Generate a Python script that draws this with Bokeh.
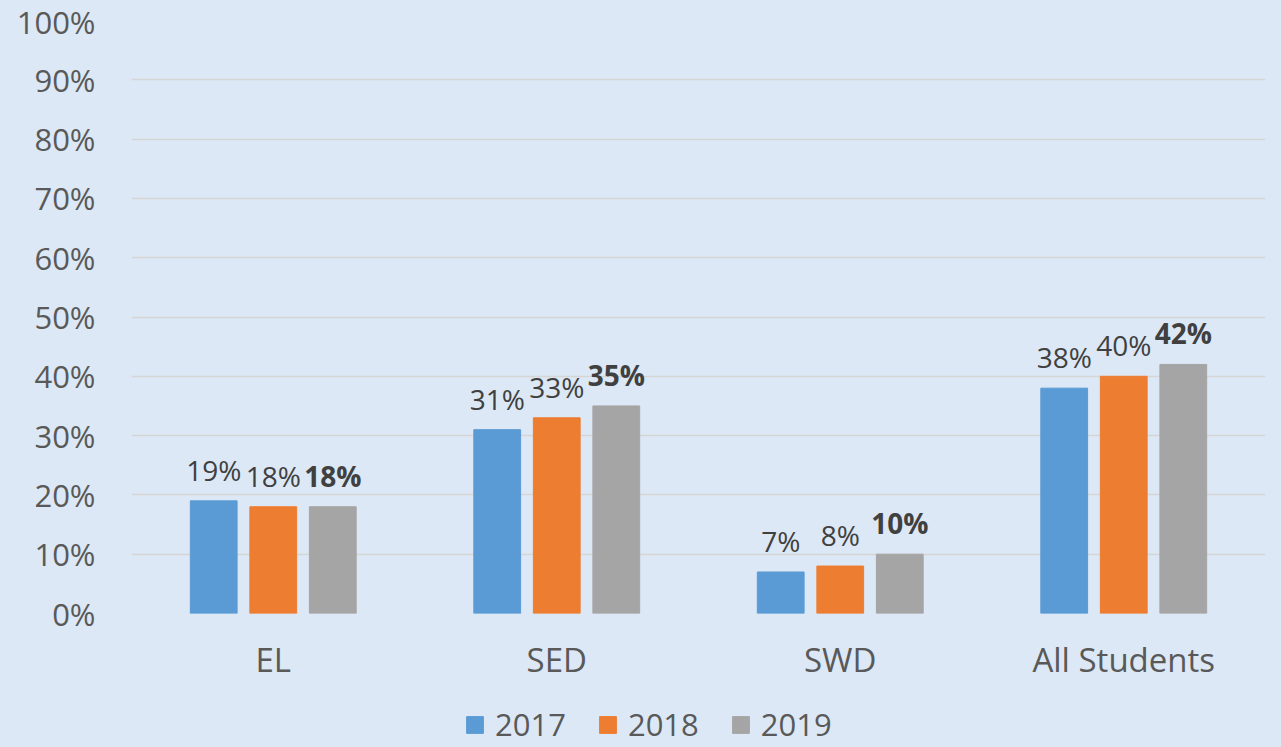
from bokeh.plotting import figure
from bokeh.layouts import column
from bokeh.models import ColumnDataSource, FactorRange, LabelSet, Legend, LegendItem, PrintfTickFormatter, FixedTicker
from bokeh.transform import dodge
from bokeh.core.properties import value
from bokeh.embed import file_html
from bokeh.resources import INLINE

categories = ["EL", "SED", "SWD", "All Students"]
years = ["2017", "2018", "2019"]
v2017 = [19, 31, 7, 38]
v2018 = [18, 33, 8, 40]
v2019 = [18, 35, 10, 42]
y_ticks = [0, 10, 20, 30, 40, 50, 60, 70, 80, 90, 100]

colors = ["#5b9bd5", "#ed7d31", "#a5a5a5"]
FONT = "Open Sans"
BG = "#dce8f5"

src = ColumnDataSource(dict(
    cat=categories,
    v2017=v2017, v2018=v2018, v2019=v2019,
    l2017=[f"{v}%" for v in v2017],
    l2018=[f"{v}%" for v in v2018],
    l2019=[f"{v}%" for v in v2019],
))

p = figure(width=1281, height=700, x_range=FactorRange(factors=categories, range_padding=0),
           y_range=(0, 100), output_backend="svg", toolbar_location=None,
           min_border_left=131, min_border_right=16, min_border_top=20, min_border_bottom=87)
p.background_fill_color = BG
p.border_fill_color = BG
p.outline_line_color = None

offsets = [-0.21, 0.0, 0.21]
for yr, off, c in zip(years, offsets, colors):
    p.vbar(x=dodge("cat", off, range=p.x_range), top="v" + yr, width=0.165, source=src,
           fill_color=c, line_color=c)
    lab = LabelSet(x=dodge("cat", off, range=p.x_range), y="v" + yr, text="l" + yr, source=src,
                   text_align="center", text_baseline="alphabetic", y_offset=20,
                   text_font=value(FONT), text_font_size="28px", text_color="#404040",
                   text_font_style="bold" if yr == "2019" else "normal")
    p.add_layout(lab)

# axes
p.yaxis.ticker = FixedTicker(ticks=y_ticks)
p.yaxis.formatter = PrintfTickFormatter(format="%d%%")
p.yaxis.axis_line_color = None
p.yaxis.major_tick_line_color = None
p.yaxis.major_tick_out = 0
p.yaxis.minor_tick_line_color = None
p.yaxis.minor_tick_out = 0
p.yaxis.major_label_standoff = 36
p.yaxis.major_label_text_font = FONT
p.yaxis.major_label_text_font_size = "31px"
p.yaxis.major_label_text_color = "#595959"

p.xaxis.axis_line_color = None
p.xaxis.major_tick_line_color = None
p.xaxis.major_tick_out = 0
p.xaxis.minor_tick_line_color = None
p.xaxis.minor_tick_out = 0
p.xaxis.major_label_standoff = 23
p.xaxis.major_label_text_font = FONT
p.xaxis.major_label_text_font_size = "33px"
p.xaxis.major_label_text_color = "#595959"

p.xgrid.grid_line_color = None
p.ygrid.grid_line_color = "#d5d5d5"
p.ygrid.grid_line_width = 1.5

# legend strip below the chart (its bars lie outside its visible range)
pl = figure(width=1281, height=47, x_range=(0, 1), y_range=(0, 1), output_backend="svg",
            toolbar_location=None, x_axis_type=None, y_axis_type=None,
            min_border_left=0, min_border_right=0, min_border_top=0, min_border_bottom=0)
pl.background_fill_color = BG
pl.border_fill_color = BG
pl.outline_line_color = None
pl.grid.visible = False
leg_src = ColumnDataSource(dict(x=[-5], top=[-5]))
leg_renderers = [pl.vbar(x="x", top="top", bottom=-6, width=0.1, source=leg_src, fill_color=c, line_color=c)
                 for c in colors]
legend = Legend(items=[LegendItem(label=yr, renderers=[r]) for yr, r in zip(years, leg_renderers)],
                orientation="horizontal", location=(333, 2),
                background_fill_alpha=0, border_line_color=None, padding=0, margin=0,
                spacing=31, label_standoff=10, glyph_width=21, glyph_height=21,
                label_text_font=FONT, label_text_font_size="31px", label_text_color="#595959")
pl.add_layout(legend, "center")

layout = column(p, pl, spacing=0)
layout.styles = {"background-color": BG}

open("out.html", "w").write(file_html(layout, INLINE))
